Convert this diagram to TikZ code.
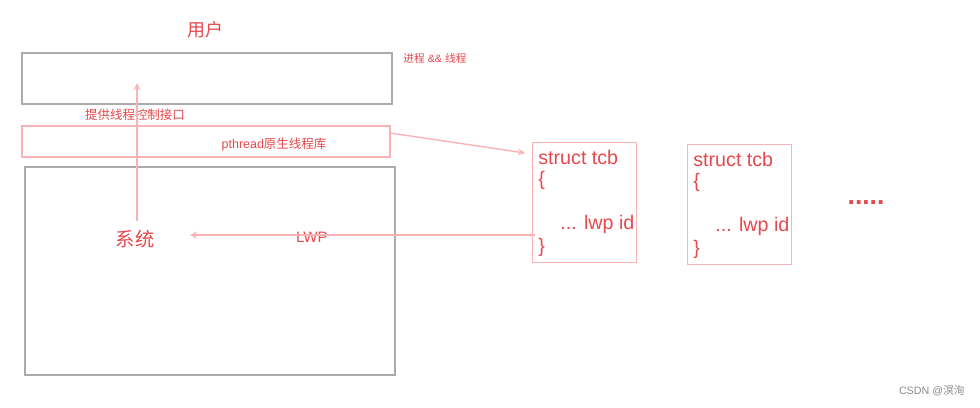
\documentclass[tikz,border=0pt]{standalone}
\usepackage{fontspec}
\setmainfont{Liberation Sans}
\newfontfamily\cjk{Noto Sans CJK SC}
\usepackage{tikz}
\definecolor{redtxt}{HTML}{E5484D}
\definecolor{pinkline}{HTML}{F7B3B6}
\definecolor{greyline}{HTML}{ABABAB}

\begin{document}
\begin{tikzpicture}[x=0.02cm, y=-0.02cm,
    greybox/.style={draw=greyline, line width=0.8pt, rectangle, inner sep=0pt},
    pinkbox/.style={draw=pinkline, line width=0.8pt, rectangle, inner sep=0pt},
    lbl/.style={text=redtxt, inner sep=0pt},
    pinkarrow/.style={draw=pinkline, line width=0.8pt, -stealth}]
            \useasboundingbox (0,0) rectangle (980,407);
            % user / kernel boxes
            \node[greybox, minimum width=370*0.02cm, minimum height=51*0.02cm] (user) at (207,78.5) {};
            \node[pinkbox, minimum width=368*0.02cm, minimum height=31*0.02cm] (lib) at (206,141.5) {};
            \node[greybox, minimum width=370*0.02cm, minimum height=208*0.02cm] (kernel) at (210,271) {};
            \node[lbl, font=\cjk\fontsize{10.2}{12}\selectfont] (yonghu) at (205,30) {用户};
            \node[lbl, anchor=west, font=\fontsize{6.1}{7}\selectfont] (proc) at (403,58) {{\cjk 进程} \&\& {\cjk 线程}};
            \node[lbl, font=\cjk\fontsize{7.1}{8}\selectfont] (iface) at (135,115) {提供线程控制接口};
            \node[lbl, font=\fontsize{7.1}{8}\selectfont] (pth) at (274,145) {pthread{\cjk 原生线程库}};
            \node[lbl, font=\cjk\fontsize{11}{13}\selectfont] (xitong) at (135,239) {系统};
            \node[lbl, font=\fontsize{8.6}{10}\selectfont] (lwp) at (312,237) {LWP};
            % tcb boxes
            \foreach \i/\x/\y in {1/532/142, 2/687/144} {
                \node[pinkbox, anchor=north west, minimum width=104*0.02cm, minimum height=120*0.02cm] (tcb\i) at (\x,\y) {};
                \node[lbl, anchor=west, font=\fontsize{11.2}{13}\selectfont] (s\i) at (\x+6,\y+15) {struct tcb};
                \node[lbl, anchor=west, font=\fontsize{11.2}{13}\selectfont] (o\i) at (\x+6,\y+38) {\{};
                \node[lbl, anchor=west, font=\fontsize{11.2}{13}\selectfont] (id\i) at (\x+28,\y+82) {... lwp id};
                \node[lbl, anchor=west, font=\fontsize{11.2}{13}\selectfont] (c\i) at (\x+6,\y+105) {\}};
            }
            \node[lbl, font=\bfseries\fontsize{15}{17}\selectfont] (dots) at (866,203) {.....};
            \node[text=greyline!80!black, anchor=east, inner sep=0pt, font=\fontsize{6.1}{7}\selectfont] (csdn) at (965,391) {CSDN @{\cjk 溟洵}};
            % arrows
            \coordinate (up0) at (137,221);
            \coordinate (up1) at (137,83);
            \coordinate (lwp0) at (535,235);
            \coordinate (lwp1) at (190,235);
            \coordinate (lib0) at (390,133);
            \coordinate (lib1) at (525,153);
            \draw[pinkarrow] (up0) -- (up1);
            \draw[pinkarrow] (lwp0) -- (lwp1);
            \draw[pinkarrow] (lib0) -- (lib1);
        \end{tikzpicture}
\end{document}
